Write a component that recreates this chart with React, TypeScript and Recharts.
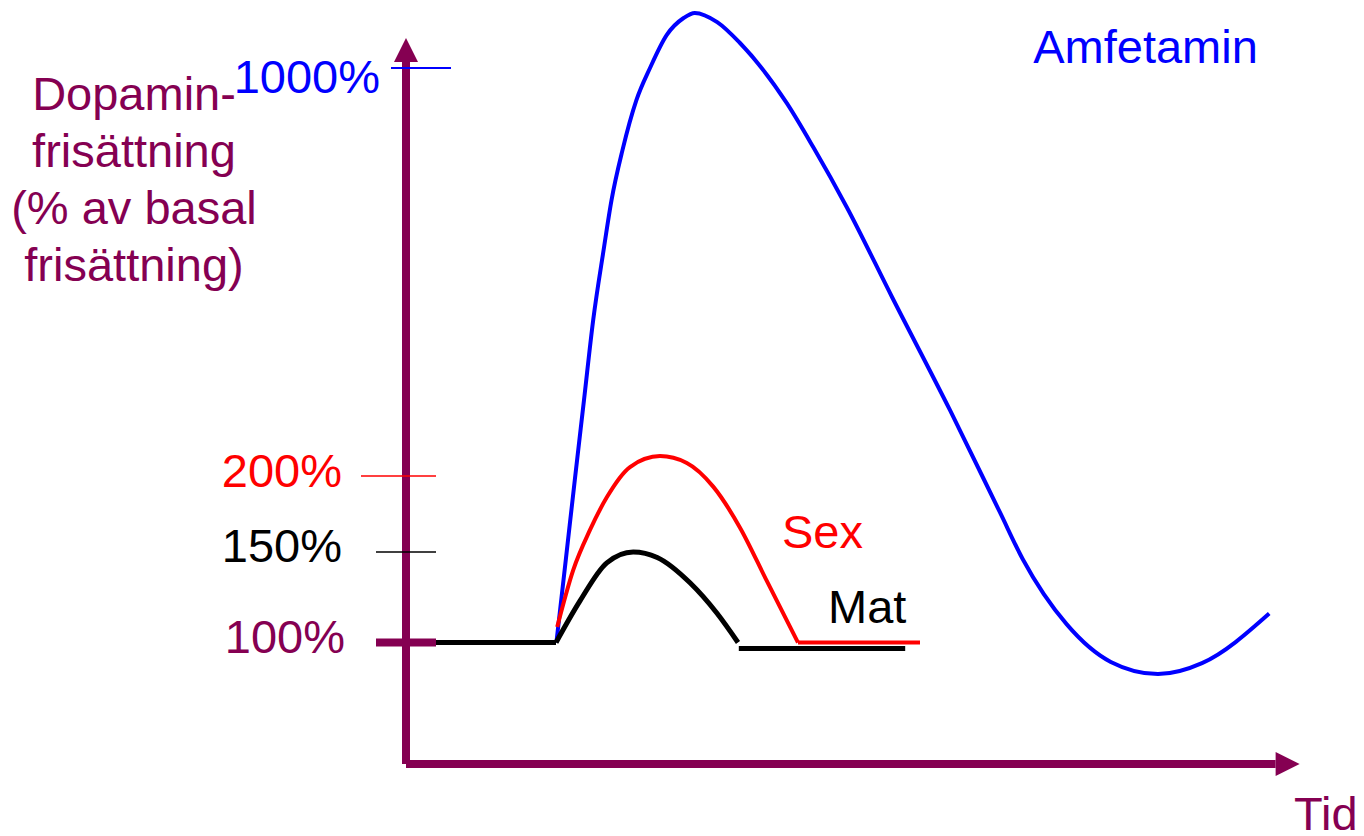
import React from "react";
import { Line, LineChart, ReferenceDot, ReferenceLine, XAxis, YAxis } from "recharts";

const PURPLE = "#850052";
const FONT = '"Liberation Sans", Arial, Helvetica, sans-serif';
const FONT_SIZE = 47;

// y-axeln i originalet är inte linjär: procent -> höjd över tidsaxeln
const scaleAnchors: [number, number][] = [
  [0, 0],
  [100, 121.5],
  [150, 212],
  [200, 288],
  [1000, 696],
];

function toLevel(pct: number) {
  for (let i = 1; i < scaleAnchors.length; i++) {
    const [p0, h0] = scaleAnchors[i - 1];
    const [p1, h1] = scaleAnchors[i];
    if (pct <= p1 || i === scaleAnchors.length - 1) {
      return h0 + ((pct - p0) * (h1 - h0)) / (p1 - p0);
    }
  }
  return 0;
}

const yTicks = [100, 150, 200, 1000];

// Amfetamin
const amfTime = [18.8, 20, 21.1, 22.25, 23.4, 24.7, 25.69, 27.06, 28.8, 30.5, 32.6, 34.7, 36.1, 38.9, 41.75, 47.6, 50.9, 55.1, 60.75, 68, 74.25, 77.1, 82.6, 88.1, 94, 99.5, 107.9];
const amfValue = [100, 146.7, 197.4, 349, 506, 643, 741, 839, 937, 1000, 1065, 1098, 1108, 1090, 1049, 931, 845, 727, 551, 329, 176, 146, 110, 84, 74, 83, 116];

// Sex
const sexTime = [18.9, 20.9, 23, 25.1, 28, 31.75, 35.1, 38.4, 41.75, 45.1, 49];
const sexValue = [108.6, 140, 164.5, 186, 217.6, 239, 225.5, 193, 166, 134, 100];
const sexTailTime = [49, 64.25];
const sexTailValue = [100, 100];

// Mat
const matBaseTime = [3.25, 18.75];
const matBaseValue = [100, 100];
const matTime = [18.75, 21.75, 25.1, 28.4, 31.4, 35.5, 38.9, 41.5];
const matValue = [100, 123, 144, 150, 147, 133, 116, 100];
const matTailTime = [41.6, 62.4];
const matTailValue = [95, 95];

const rows = (time: number[], values: number[]) =>
  time.map((t, i) => ({ t, value: values[i], level: toLevel(values[i]) }));

const tickLook: Record<number, { color: string; from: number; to: number; width: number; dx: number; dy: number }> = {
  100: { color: PURPLE, from: -30, to: 30, width: 8, dx: -61, dy: 10.5 },
  150: { color: "#000000", from: -30, to: 30, width: 1.5, dx: -64, dy: 9.7 },
  200: { color: "#ff0000", from: -45, to: 30, width: 1.5, dx: -64, dy: 10.7 },
  1000: { color: "#0000ff", from: -15, to: 45, width: 2, dx: -26, dy: 24.5 },
};

function PercentTick(props: any) {
  const { x, y, payload } = props;
  const pct = yTicks.find((p) => Math.abs(toLevel(p) - payload.value) < 0.01) ?? 100;
  const look = tickLook[pct];
  return (
    <g>
      <line x1={x + look.from} x2={x + look.to} y1={y} y2={y} stroke={look.color} strokeWidth={look.width} />
      <text x={x + look.dx} y={y + look.dy} textAnchor="end" fill={look.color} fontFamily={FONT} fontSize={FONT_SIZE}>
        {pct}%
      </text>
    </g>
  );
}

function ArrowLine(props: any) {
  const { x1, y1, x2, y2 } = props;
  const dx = x2 - x1;
  const dy = y2 - y1;
  const len = Math.hypot(dx, dy) || 1;
  const ux = dx / len;
  const uy = dy / len;
  const head = 24;
  const half = 12;
  const bx = x2 - ux * head;
  const by = y2 - uy * head;
  return (
    <g>
      <line x1={x1} y1={y1} x2={bx} y2={by} stroke={PURPLE} strokeWidth={8} />
      <polygon
        points={`${x2},${y2} ${bx - uy * half},${by + ux * half} ${bx + uy * half},${by - ux * half}`}
        fill={PURPLE}
      />
    </g>
  );
}

const titleLines = ["Dopamin-", "frisättning", "(% av basal", "frisättning)"];

function TitleLabel(props: any) {
  const vb = props.viewBox || { x: 0, y: 4 };
  return (
    <text fill={PURPLE} fontFamily={FONT} fontSize={FONT_SIZE} textAnchor="middle">
      {titleLines.map((line, i) => (
        <tspan key={line + i} x={vb.x + 134} y={vb.y + 106 + i * 57}>
          {line}
        </tspan>
      ))}
    </text>
  );
}

function TimeLabel(props: any) {
  const vb = props.viewBox || { x: 406, y: 764, width: 896 };
  return (
    <text x={vb.x + vb.width - 8} y={vb.y + 66} fill={PURPLE} fontFamily={FONT} fontSize={FONT_SIZE}>
      Tid
    </text>
  );
}

const seriesLabels = [
  { text: "Amfetamin", t: 78.4, pct: 1010, color: "#0000ff" },
  { text: "Sex", t: 47, pct: 152.6, color: "#ff0000" },
  { text: "Mat", t: 52.75, pct: 110.6, color: "#000000" },
];

export default function App() {
  const lineProps = { dataKey: "level", dot: false, activeDot: false, isAnimationActive: false, strokeLinejoin: "round" as const };
  return (
    <div style={{ position: "absolute", left: 0, top: 0, width: 1364, height: 836, background: "#fff" }}>
      <LineChart width={1364} height={836} margin={{ top: 4, right: 62, bottom: 0, left: 0 }}>
        <XAxis
          type="number"
          dataKey="t"
          domain={[0, 112]}
          allowDataOverflow
          height={72}
          axisLine={false}
          tickLine={false}
          tick={false}
          label={{ content: (p: any) => <TimeLabel viewBox={p.viewBox} /> }}
        />
        <YAxis
          type="number"
          domain={[0, 760]}
          allowDataOverflow
          width={406}
          axisLine={false}
          tickLine={false}
          tickSize={0}
          tickMargin={0}
          ticks={yTicks.map(toLevel)}
          interval={0}
          tick={<PercentTick />}
          label={{ content: (p: any) => <TitleLabel viewBox={p.viewBox} /> }}
        />
        <ReferenceLine segment={[{ x: 0, y: 0 }, { x: 0, y: 726 }]} ifOverflow="visible" shape={ArrowLine} />
        <ReferenceLine segment={[{ x: 0, y: 0 }, { x: 111.7, y: 0 }]} ifOverflow="visible" shape={ArrowLine} />

        <Line {...lineProps} data={rows(amfTime, amfValue)} type="monotone" stroke="#0000ff" strokeWidth={4} />
        <Line {...lineProps} data={rows(sexTime, sexValue)} type="monotone" stroke="#ff0000" strokeWidth={4} />
        <Line {...lineProps} data={rows(sexTailTime, sexTailValue)} type="linear" stroke="#ff0000" strokeWidth={4} />
        <Line {...lineProps} data={rows(matBaseTime, matBaseValue)} type="linear" stroke="#000000" strokeWidth={5} />
        <Line {...lineProps} data={rows(matTime, matValue)} type="monotone" stroke="#000000" strokeWidth={5} />
        <Line {...lineProps} data={rows(matTailTime, matTailValue)} type="linear" stroke="#000000" strokeWidth={5} />

        {seriesLabels.map((s) => (
          <ReferenceDot
            key={s.text}
            x={s.t}
            y={toLevel(s.pct)}
            r={0}
            ifOverflow="visible"
            shape={(p: any) => (
              <text x={p.cx} y={p.cy} fill={s.color} fontFamily={FONT} fontSize={FONT_SIZE}>
                {s.text}
              </text>
            )}
          />
        ))}
      </LineChart>
    </div>
  );
}
